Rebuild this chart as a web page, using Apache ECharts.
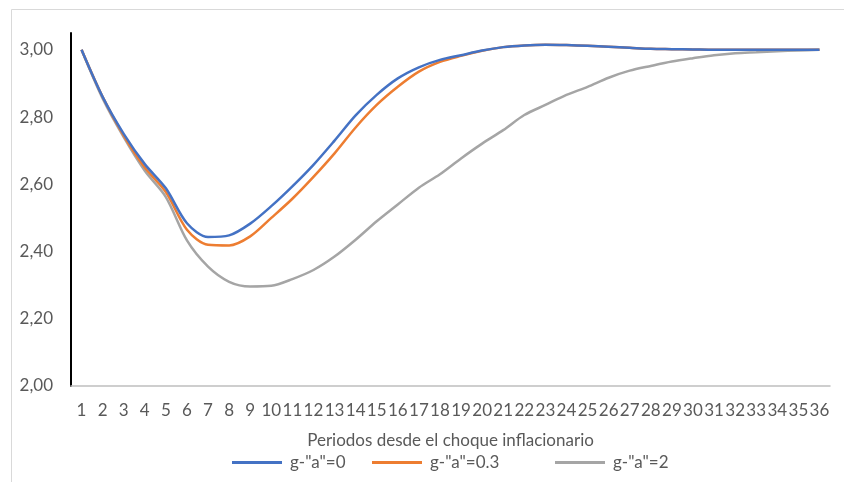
<!DOCTYPE html>
<html>
<head>
<meta charset="utf-8">
<script src="https://cdn.jsdelivr.net/npm/echarts@6/dist/echarts.min.js"></script>
<style>
  html, body { margin: 0; padding: 0; background: #fff; }
  #chart { width: 844px; height: 482px; }
</style>
</head>
<body>
<div id="chart"></div>
<script>
// Periods after the inflation shock
const periods = Array.from({ length: 36 }, (_, i) => String(i + 1));

// Path of inflation for each value of g-"a"
const seriesNames = ['g-"a"=0', 'g-"a"=0.3', 'g-"a"=2'];

const gA0 = [3.00, 2.86, 2.75, 2.66, 2.588, 2.484, 2.443, 2.448, 2.483, 2.535,
  2.594, 2.658, 2.73, 2.805, 2.866, 2.915, 2.948, 2.97, 2.984, 2.998,
  3.008, 3.013, 3.015, 3.014, 3.012, 3.009, 3.006, 3.003, 3.002, 3.001,
  3.0, 3.0, 3.0, 3.0, 3.0, 3.0];

const gA03 = [3.00, 2.86, 2.745, 2.65, 2.577, 2.465, 2.42, 2.418, 2.445, 2.5,
  2.557, 2.622, 2.692, 2.769, 2.836, 2.89, 2.935, 2.964, 2.982, 2.997,
  3.008, 3.013, 3.015, 3.014, 3.012, 3.009, 3.006, 3.003, 3.002, 3.001,
  3.0, 3.0, 3.0, 3.0, 3.0, 3.0];

const gA2 = [3.00, 2.855, 2.74, 2.64, 2.562, 2.433, 2.355, 2.31, 2.296, 2.298,
  2.318, 2.345, 2.385, 2.435, 2.49, 2.54, 2.59, 2.63, 2.677, 2.721,
  2.761, 2.806, 2.836, 2.866, 2.89, 2.917, 2.938, 2.952, 2.965, 2.975,
  2.984, 2.99, 2.993, 2.996, 2.998, 3.0];

const colors = ['#4472C4', '#ED7D31', '#A5A5A5'];
const textColor = '#595959';
const fontFamily = 'Lato, "Open Sans", sans-serif';
const fontSize = 17;

// left edge of each legend entry
const legendLefts = [232, 372, 555];

const chart = echarts.init(document.getElementById('chart'), null, { renderer: 'canvas' });

chart.setOption({
  animation: false,
  backgroundColor: '#ffffff',
  textStyle: { fontFamily: fontFamily },
  graphic: [{
    type: 'rect',
    shape: { x: 11.5, y: 9.5, width: 1000, height: 1000 },
    style: { fill: 'none', stroke: '#d9d9d9', lineWidth: 1 },
    silent: true,
    z: -1
  }],
  grid: { left: 71, right: 14, top: 33, bottom: 96 },
  legend: seriesNames.map((name, i) => ({
    bottom: 11,
    left: legendLefts[i],
    padding: 0,
    itemWidth: 50,
    itemHeight: 3,
    icon: 'rect',
    textStyle: { color: textColor, fontSize: fontSize, fontFamily: fontFamily, padding: [0, 0, 0, 3] },
    data: [name]
  })),
  xAxis: {
    type: 'category',
    data: periods,
    boundaryGap: true,
    name: 'Periodos desde el choque inflacionario',
    nameLocation: 'middle',
    nameGap: 46,
    nameTextStyle: { color: textColor, fontSize: fontSize, fontFamily: fontFamily },
    axisLine: { lineStyle: { color: '#bfbfbf', width: 1.5 } },
    axisTick: { show: false },
    axisLabel: { color: textColor, fontSize: fontSize, margin: 16, interval: 0, fontFamily: fontFamily },
    splitLine: { show: false }
  },
  yAxis: {
    type: 'value',
    min: 2.0,
    max: 3.05,
    interval: 0.2,
    axisLine: { show: true, lineStyle: { color: '#000000', width: 2 } },
    axisTick: { show: false },
    splitLine: { show: false },
    axisLabel: {
      color: textColor,
      fontSize: fontSize,
      margin: 18,
      fontFamily: fontFamily,
      formatter: function (v) {
        const k = Math.round(v / 0.2);
        if (Math.abs(v - k * 0.2) > 1e-6) return '';
        return v.toFixed(2).replace('.', ',');
      }
    }
  },
  series: [
    { name: seriesNames[0], data: gA0 },
    { name: seriesNames[1], data: gA03 },
    { name: seriesNames[2], data: gA2 }
  ].map((s, i) => ({
    name: s.name,
    type: 'line',
    data: s.data,
    smooth: 0.3,
    showSymbol: false,
    symbol: 'none',
    color: colors[i],
    lineStyle: { color: colors[i], width: 2.5 },
    z: 3 - i
  }))
});
</script>
</body>
</html>
